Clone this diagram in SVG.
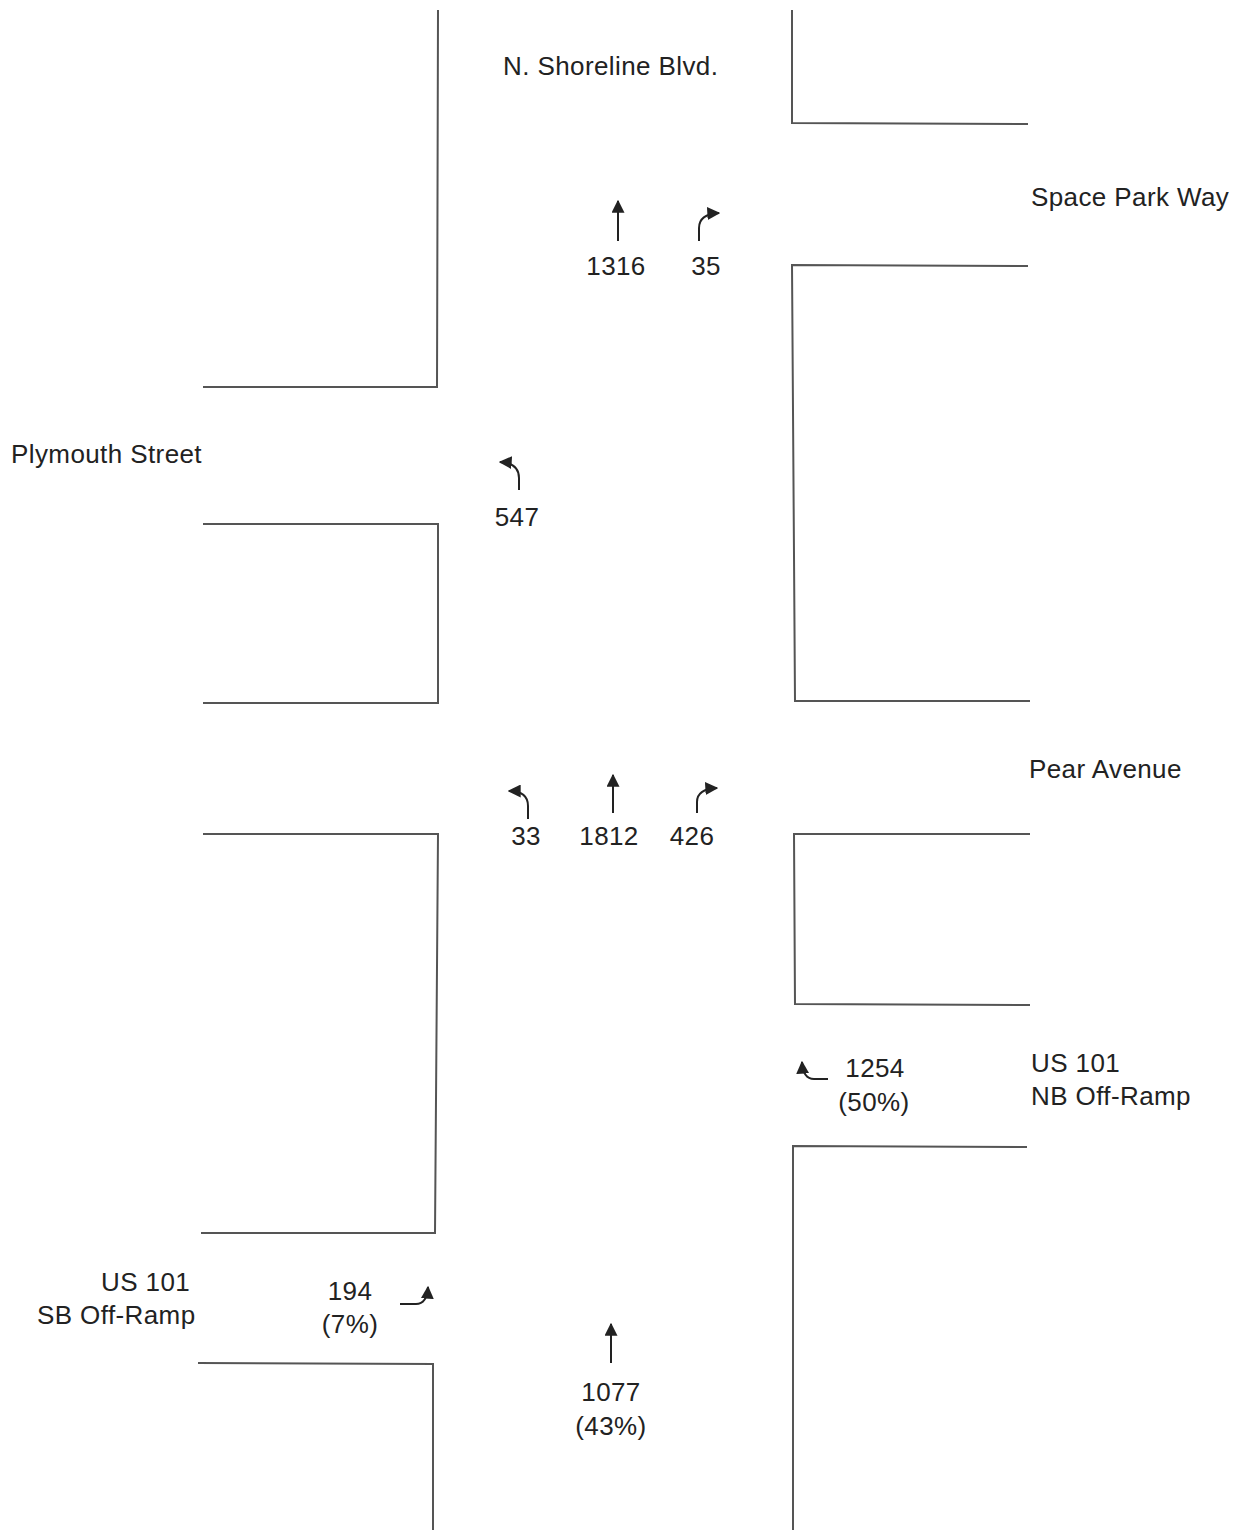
<svg xmlns="http://www.w3.org/2000/svg" width="1247" height="1530" viewBox="0 0 1247 1530">
<defs>
<style>
.road{fill:none;stroke:#555;stroke-width:2}
.arr{fill:none;stroke:#222;stroke-width:2}
text{font-family:"Liberation Sans",Arial,sans-serif;font-size:26px;letter-spacing:0.4px;fill:#222}
.c{text-anchor:middle}
</style>
<marker id="ah" viewBox="0 0 10 10" refX="9" refY="5" markerWidth="6.5" markerHeight="6.5" markerUnits="strokeWidth" orient="auto">
<path d="M0,0 L10,5 L0,10 Z" fill="#222"/>
</marker>
</defs>
<rect width="1247" height="1530" fill="#fff"/>
<g id="roads">
<path class="road" d="M438,10 L437,387 L203,387"/>
<path class="road" d="M792,10 L792,123 L1028,124"/>
<path class="road" d="M1028,266 L792,265 L795,701 L1030,701"/>
<path class="road" d="M203,524 L438,524 L438,703 L203,703"/>
<path class="road" d="M203,834 L438,834 L435,1233 L201,1233"/>
<path class="road" d="M1030,834 L794,834 L795,1004 L1030,1005"/>
<path class="road" d="M1027,1147 L793,1146 L793,1530"/>
<path class="road" d="M198,1363 L433,1364 L433,1530"/>
</g>
<g id="labels">
<text x="503" y="75">N. Shoreline Blvd.</text>
<text x="1031" y="206">Space Park Way</text>
<text x="11" y="463">Plymouth Street</text>
<text x="1029" y="778">Pear Avenue</text>
<text x="1031" y="1072">US 101</text>
<text x="1031" y="1105">NB Off-Ramp</text>
<text x="101" y="1291">US 101</text>
<text x="37" y="1324">SB Off-Ramp</text>
</g>
<g id="connectors">
<path class="arr" marker-end="url(#ah)" d="M618,241 L618,201"/>
<path class="arr" marker-end="url(#ah)" d="M699,241 L699,228 Q699,214 719,213"/>
<path class="arr" marker-end="url(#ah)" d="M519,490 L519,478 Q519,463 500,462"/>
<path class="arr" marker-end="url(#ah)" d="M528,819 L528,806 Q528,791 509,791"/>
<path class="arr" marker-end="url(#ah)" d="M613,813 L613,775"/>
<path class="arr" marker-end="url(#ah)" d="M697,813 L697,802 Q697,789 717,788"/>
<path class="arr" marker-end="url(#ah)" d="M828,1079 L814,1079 Q803,1079 802,1062"/>
<path class="arr" marker-end="url(#ah)" d="M400,1304 L416,1304 Q427,1304 428,1287"/>
<path class="arr" marker-end="url(#ah)" d="M611,1363 L611,1324"/>
</g>
<g id="volumes">
<text class="c" x="616" y="275">1316</text>
<text class="c" x="706" y="275">35</text>
<text class="c" x="517" y="526">547</text>
<text class="c" x="526" y="845">33</text>
<text class="c" x="609" y="845">1812</text>
<text class="c" x="692" y="845">426</text>
<text class="c" x="875" y="1077">1254</text>
<text class="c" x="874" y="1111">(50%)</text>
<text class="c" x="350" y="1300">194</text>
<text class="c" x="350" y="1333">(7%)</text>
<text class="c" x="611" y="1401">1077</text>
<text class="c" x="611" y="1435">(43%)</text>
</g>
</svg>
